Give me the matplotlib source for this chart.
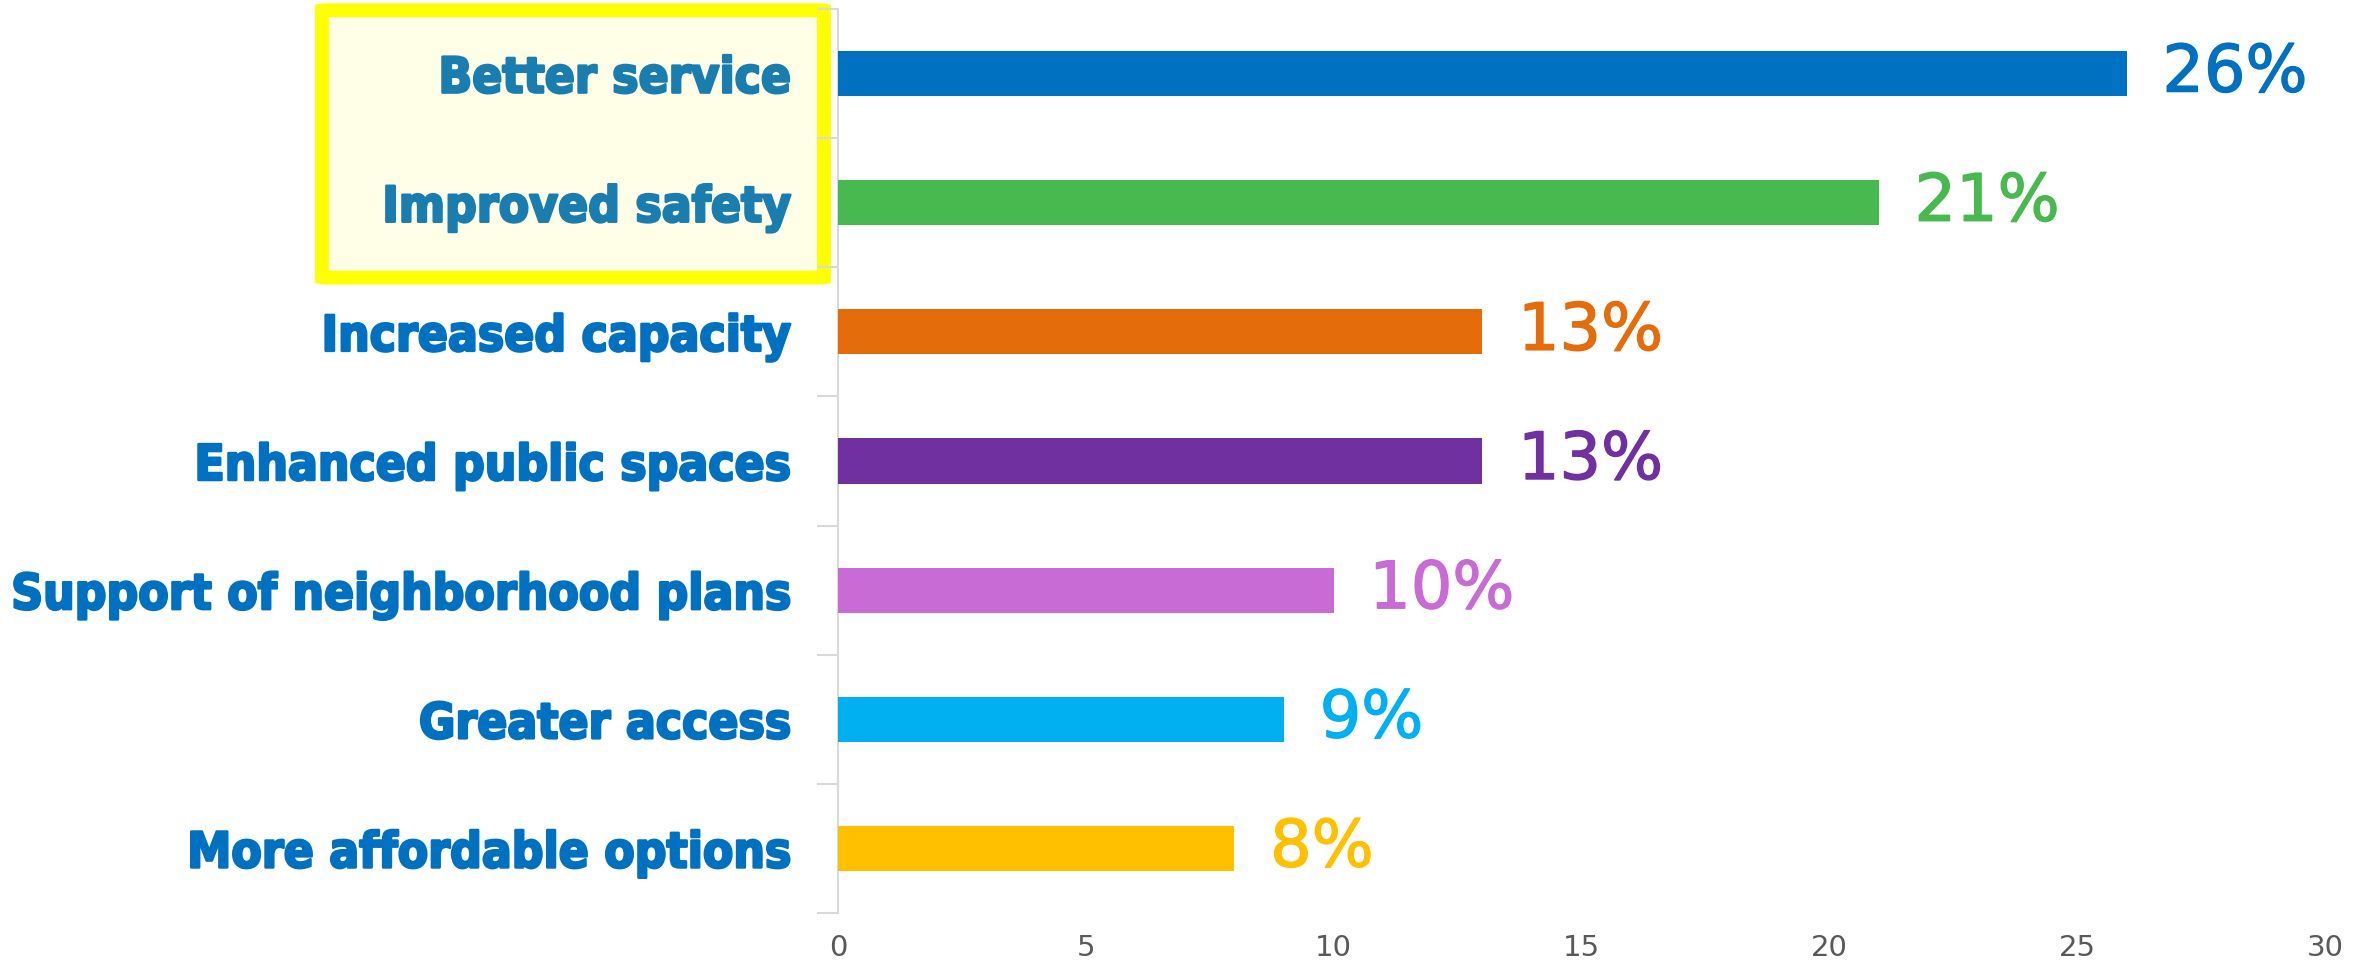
import matplotlib.pyplot as plt
import matplotlib.patheffects as pe
from matplotlib.patches import FancyBboxPatch
from matplotlib.transforms import blended_transform_factory

categories = ['Better service', 'Improved safety', 'Increased capacity',
              'Enhanced public spaces', 'Support of neighborhood plans',
              'Greater access', 'More affordable options']
values = [26, 21, 13, 13, 10, 9, 8]
labels = ['26%', '21%', '13%', '13%', '10%', '9%', '8%']
colors = ['#0070C0', '#47B94E', '#E46C0A', '#7030A0', '#C86BD4', '#00B0F0', '#FFC000']
label_colors = ['#1A7DB0', '#1A7DB0', '#0070C0', '#0070C0', '#0070C0', '#0070C0', '#0070C0']
xticks = [0, 5, 10, 15, 20, 25, 30]

fig = plt.figure(figsize=(23.71, 9.67), dpi=100)
ax = fig.add_axes([0.3534, 0.0558, 0.6272, 0.9349])

y = list(range(len(categories)))
ax.barh(y, values, height=0.35, color=colors, zorder=3)

for i in y:
    ax.text(values[i] + 0.72, i, labels[i], color=colors[i], fontsize=47,
            va='center', ha='left', family='DejaVu Sans',
            path_effects=[pe.withStroke(linewidth=1.0, foreground=colors[i])])

ax.set_xlim(0, 30)
ax.set_ylim(len(categories) - 0.5, -0.5)
ax.set_xticks(xticks)
ax.set_xticklabels([str(t) for t in xticks], fontsize=21, color='#595959')
ax.tick_params(axis='x', length=0, pad=15)

ax.set_yticks(y)
ax.set_yticklabels(categories, fontsize=35.5, fontweight='bold',
                   fontstretch='condensed', family='DejaVu Sans')
for t, c in zip(ax.get_yticklabels(), label_colors):
    t.set_color(c)
    t.set_path_effects([pe.withStroke(linewidth=1.8, foreground=c)])
ax.tick_params(axis='y', which='major', length=0, pad=34)
ax.set_yticks([k - 0.5 for k in range(len(categories) + 1)], minor=True)
ax.tick_params(axis='y', which='minor', length=15, width=1.5, color='#D9D9D9')

for s in ['top', 'right', 'bottom']:
    ax.spines[s].set_visible(False)
ax.spines['left'].set_color('#D9D9D9')
ax.spines['left'].set_linewidth(1.5)

# highlight box round the first two labels
trans = blended_transform_factory(fig.transFigure, ax.transData)
box = FancyBboxPatch((322 / 2371, -0.49), 502 / 2371, 2.07,
                     boxstyle='round,pad=0,rounding_size=0.003',
                     transform=trans, facecolor='#FEFFE6', edgecolor='#FFFF00',
                     linewidth=10, clip_on=False, zorder=-1)
fig.patches.append(box)

fig.savefig('out.png', dpi=100)
